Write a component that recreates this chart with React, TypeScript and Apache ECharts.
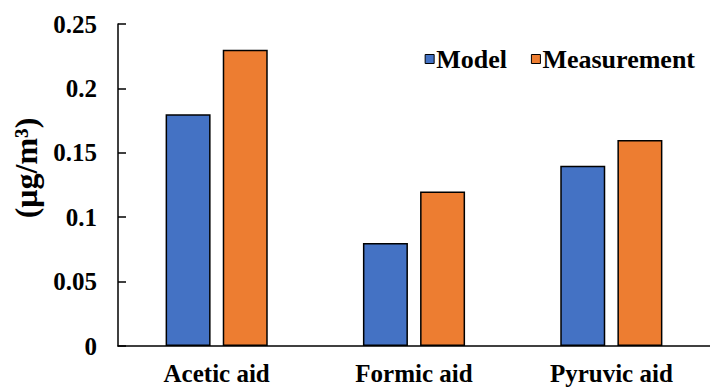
import React, { useEffect, useRef } from "react";
import * as echarts from "echarts";

const categories = ["Acetic aid", "Formic aid", "Pyruvic aid"];
const modelValues = [0.18, 0.08, 0.14];
const measurementValues = [0.23, 0.12, 0.16];
const seriesNames = ["Model", "Measurement"];
const yAxisTitle = "(μg/m³)";

const FONT = "Times New Roman, Liberation Serif, serif";

export default function App() {
  const ref = useRef<HTMLDivElement>(null);
  useEffect(() => {
    if (!ref.current) return;
    const chart = echarts.init(ref.current, undefined, { renderer: "svg" });
    chart.setOption({
      animation: false,
      backgroundColor: "#ffffff",
      textStyle: { fontFamily: FONT },
      legend: {
        right: 10,
        top: 41,
        itemWidth: 9,
        itemHeight: 9,
        itemGap: 24,
        icon: "rect",
        itemStyle: { borderColor: "#000", borderWidth: 1 },
        textStyle: {
          fontFamily: FONT,
          fontWeight: "bold",
          fontSize: 26,
          color: "#000",
          padding: [0, 0, 0, -3],
        },
        data: seriesNames,
      },
      grid: { left: 118, top: 24, width: 597, height: 322, containLabel: false },
      xAxis: {
        type: "category",
        data: categories,
        axisLine: { lineStyle: { color: "#000", width: 1.5 } },
        axisTick: { show: false },
        axisLabel: { fontFamily: FONT, fontWeight: "bold", fontSize: 25, color: "#000", margin: 15 },
      },
      yAxis: {
        type: "value",
        min: 0,
        max: 0.25,
        interval: 0.05,
        axisLine: { show: true, lineStyle: { color: "#000", width: 1.5 } },
        axisTick: { show: true, inside: true, length: 8, lineStyle: { color: "#000", width: 1.5 } },
        splitLine: { show: false },
        axisLabel: { fontFamily: FONT, fontWeight: "bold", fontSize: 25, color: "#000", margin: 21 },
      },
      graphic: [
        {
          type: "text",
          x: 26,
          y: 168,
          rotation: Math.PI / 2,
          style: {
            text: yAxisTitle,
            fontFamily: FONT,
            fontWeight: "bold",
            fontSize: 32,
            fill: "#000",
            align: "center",
            verticalAlign: "middle",
          },
        },
      ],
      series: [
        {
          name: seriesNames[0],
          type: "bar",
          data: modelValues,
          barWidth: 45,
          barGap: "27%",
          itemStyle: { color: "#4472C4", borderColor: "#000", borderWidth: 1.5 },
        },
        {
          name: seriesNames[1],
          type: "bar",
          data: measurementValues,
          barWidth: 45,
          barGap: "27%",
          itemStyle: { color: "#ED7D31", borderColor: "#000", borderWidth: 1.5 },
        },
      ],
    });
    return () => chart.dispose();
  }, []);
  return (
    <div
      ref={ref}
      style={{ position: "absolute", left: 0, top: 0, width: 710, height: 387 }}
    />
  );
}
